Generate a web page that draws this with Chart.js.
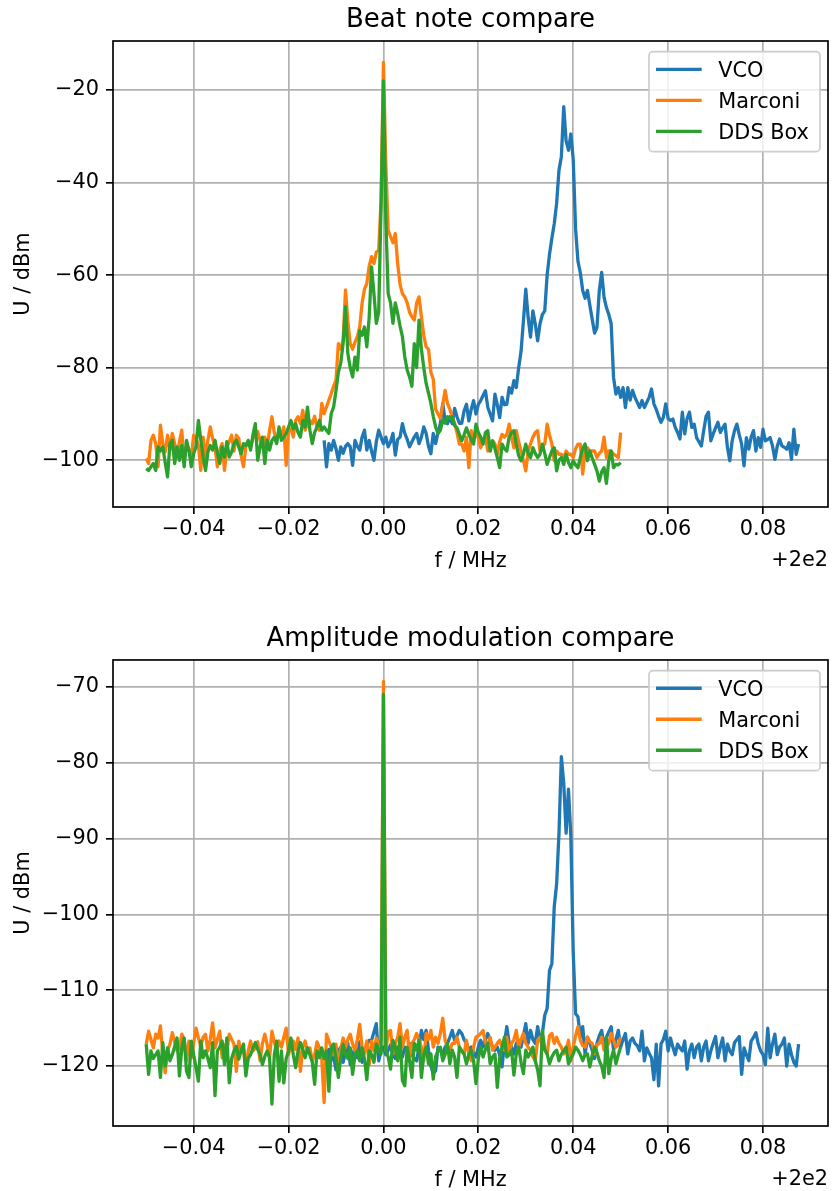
<!DOCTYPE html>
<html><head><meta charset="utf-8">
<script src="https://cdn.jsdelivr.net/npm/chart.js@4.4.1/dist/chart.umd.min.js"></script>
<style>
html,body{margin:0;padding:0;background:#fff;overflow:hidden;width:833px;height:1191px;}
canvas{position:absolute;left:0;}
#c1{top:0;} #c2{top:590px;}
</style></head><body>
<canvas id="c1" width="833" height="590"></canvas>
<canvas id="c2" width="833" height="630"></canvas>
<script>
// ---------- data (frequency offsets in MHz relative to 200 MHz; levels in dBm) ----------
const signalGenStart = -0.05;   // Marconi / DDS Box sweep start
const vcoStart = -0.0125;       // VCO sweep start
const freqStep = 0.0005;        // sweep step

const seriesNames = ['VCO', 'Marconi', 'DDS Box'];
const xTicks = [-0.04, -0.02, 0.00, 0.02, 0.04, 0.06, 0.08];
const yTicksBeat = [-100, -80, -60, -40, -20];
const yTicksAM = [-120, -110, -100, -90, -80, -70];

// Beat note compare
const beatMarconi = [
-99.6,-100.7,-95.7,-94.6,-96.4,-101.4,-92.4,-96.4,-98.2,-94.6,-97.8,-94.2,-96.4,-99.3,-96.0,-93.5,-100.0,-97.1,-97.8,-99.3,
-94.6,-95.3,-96.8,-102.2,-95.0,-99.3,-95.7,-92.8,-95.3,-97.1,-101.4,-97.8,-96.4,-102.2,-97.1,-96.0,-94.6,-98.0,
-94.6,-95.3,-99.0,-101.4,-97.1,-96.0,-97.1,-95.3,-94.2,-93.8,-95.7,-97.2,-95.0,-97.1,-93.5,-90.6,-94.0,-95.7,-93.9,-94.5,
-92.8,-101.1,-93.5,-93.2,-95.0,-91.4,-90.6,-92.1,-89.2,-93.5,-92.0,-91.4,-92.1,-90.5,-92.8,-93.5,-87.7,-89.9,-88.5,-87.0,
-85.6,-84.0,-82.7,
-74.8,-76.0,-74.0,-63.2,-70.0,-74.8,-76.0,-74.5,-73.3,-71.2,-66.0,-63.0,-61.8,-58.0,-56.0,-57.5,-55.0,-54.6,-44.0,-14.0,
-36.0,-50.3,-51.7,-53.0,-51.0,-57.5,-62.0,-64.0,-64.7,-66.0,-68.0,-69.0,-69.7,-66.0,-64.7,-69.0,-73.0,-75.5,-76.0,-81.0,
-82.5,-89.0,-90.0,-91.0,-88.0,-84.9,-87.7,-89.0,-90.6,-92.0,-94.0,
-96.5,-96.5,-98.0,-95.0,-101.6,-93.6,-95.8,-94.5,-95.0,-97.3,-96.0,-95.0,-98.0,-96.5,-95.8,-96.5,-98.7,-96.0,-94.4,-95.0,
-94.4,-92.2,-95.0,-97.3,-93.6,-96.0,-98.0,-100.1,-102.3,-98.0,-96.5,-95.0,-94.0,-93.6,-98.0,-97.0,-96.5,-92.2,-94.5,-96.5,
-100.1,-98.0,-98.7,-98.7,-99.4,-98.0,-98.7,-98.7,-99.4,-97.5,-96.5,-96.5,-103.0,-98.0,-97.3,-98.0,-98.0,-98.0,-99.4,-98.5,
-98.0,-95.0,-99.4,-98.0,-98.0,-98.7,-99.0,-99.4,-94.0
];
const beatDDS = [
-101.8,-102.2,-101.4,-100.7,-102.2,-97.1,-98.0,-97.1,-100.5,-103.6,-96.4,-95.7,-100.7,-97.1,-100.0,-96.8,-101.4,-95.7,-97.8,-101.4,
-98.6,-97.1,-91.4,-95.5,-99.3,-102.2,-98.2,-96.8,-97.8,-95.7,-98.5,-100.7,-97.1,-99.3,-96.0,-99.3,-98.2,-96.4,-95.7,-97.1,
-98.6,-96.4,-96.8,-95.7,-97.8,-94.5,-92.1,-100.0,-97.1,-95.0,-100.7,-95.7,-97.8,-95.7,-95.0,-96.4,-92.8,-95.7,-95.0,-94.2,
-92.8,-91.4,-93.2,-92.1,-94.0,-95.0,-91.4,-92.8,-88.5,-93.5,-96.4,-94.0,-92.8,-91.4,-93.5,-92.8,-93.5,-94.2,-89.9,-88.5,
-85.0,
-81.0,-79.0,-74.8,-66.8,-77.0,-80.0,-82.0,-77.7,-80.5,-72.0,-73.0,-71.2,-75.5,-69.0,-58.2,-64.0,-70.4,-68.0,-45.0,-18.0,
-48.0,-64.0,-66.0,-70.4,-66.0,-68.3,-71.0,-73.3,-77.7,-80.5,-82.0,-84.0,-74.8,-80.0,-69.7,-76.0,-80.0,-83.4,-85.5,-87.7,
-90.5,-92.8,-94.2,-93.5,-91.3,-92.0,-90.6,-91.0,-90.6,-92.5,-93.0,
-94.4,-95.8,-94.5,-93.0,-94.4,-95.5,-96.5,-92.2,-94.0,-95.0,-96.5,-94.0,-93.6,-98.0,-95.8,-97.5,-99.4,-101.6,-96.5,-97.5,
-98.0,-95.0,-94.0,-93.6,-96.5,-99.0,-100.1,-98.7,-96.5,-98.5,-99.4,-97.3,-98.5,-99.4,-98.7,-96.5,-98.5,-100.9,-99.4,-98.0,
-97.3,-102.3,-100.0,-99.4,-100.9,-98.7,-100.5,-101.6,-100.1,-101.0,-101.6,-99.4,-97.5,-96.5,-100.1,-98.0,-99.5,-100.9,-102.3,-104.5,
-102.5,-101.6,-105.0,-100.0,-98.0,-101.6,-100.9,-101.0,-100.5
];
const beatVCO = [
-95.7,-101.4,-96.4,-97.8,-95.7,-97.5,-100.0,-97.1,-98.5,-97.0,-96.4,-97.1,-101.1,-95.7,-97.0,-97.8,-95.0,-93.5,-97.8,-95.7,
-98.0,-100.0,-96.0,-93.5,-95.0,-96.4,-95.0,-97.1,-96.0,-94.2,-98.9,-95.5,-95.0,-92.1,-94.2,-95.5,-97.1,-96.0,-95.0,-94.2,
-96.4,-95.0,-92.8,-94.2,-97.0,-98.6,-94.2,-96.4,-94.0,-92.1,-87.7,-91.5,-92.1,-90.6,-92.1,-88.8,-90.6,-92.0,-92.0,
-89.3,-87.9,-91.5,-89.0,-87.1,-90.0,-87.9,-87.1,-86.0,-85.0,-88.6,-90.0,-91.5,-85.7,-88.0,-90.8,-86.4,-88.0,-87.9,-84.3,
-85.5,-82.8,-84.3,-80.0,-76.5,-70.0,-63.0,-69.1,-73.4,-67.7,-70.5,-74.2,-70.5,-68.5,-67.7,-60.0,-55.5,-52.0,-48.9,-44.5,
-37.3,-34.4,-23.6,-31.0,-33.0,-29.5,-35.0,-50.0,-57.0,-59.5,-63.3,-65.0,-63.3,-66.5,-69.5,-72.5,-71.3,-63.3,-59.4,-64.8,
-67.0,-68.5,-70.5,-82.1,-85.7,-84.3,-86.4,-84.3,-88.6,-84.3,
-87.0,-84.9,-86.4,-87.5,-88.6,-87.1,-88.6,-87.5,-86.4,-84.6,-87.8,-89.0,-90.5,-91.8,-90.7,-87.8,-91.0,-91.4,-91.1,-92.9,
-94.0,-95.4,-89.6,-94.3,-91.0,-89.6,-92.9,-92.2,-95.1,-96.0,-96.9,-93.6,-90.5,-89.6,-95.8,-94.3,-93.0,-91.8,-94.0,-93.0,
-92.2,-97.2,-100.1,-95.8,-93.6,-92.2,-94.5,-96.5,-101.2,-95.1,-97.6,-95.0,-93.6,-98.0,-95.1,-97.2,-93.3,-95.8,-95.5,-95.1,
-96.9,-99.8,-97.0,-95.4,-96.9,-97.2,-97.6,-96.2,-99.8,-93.3,-98.7,-96.5
];

// Amplitude modulation compare
const amMarconi = [
-117.1,-115.4,-116.5,-117.6,-115.8,-116.3,-114.7,-118.5,-120.9,-118.0,-117.1,-115.6,-116.8,-118.0,-117.6,-115.8,-116.5,-119.3,-116.7,-118.9,
-117.0,-115.0,-116.3,-117.4,-116.2,-115.8,-118.0,-116.5,-114.3,-117.6,-116.5,-115.4,-118.9,-117.2,-118.0,-115.8,-116.5,-117.1,-120.7,-116.7,
-118.2,-117.6,-120.7,-118.0,-116.7,-118.0,-117.6,-116.8,-119.3,-117.0,-115.8,-117.2,-118.9,-115.4,-116.8,-118.0,-116.7,-117.5,-116.2,-115.0,
-118.5,-117.2,-116.7,-117.8,-116.3,-120.7,-117.5,-116.7,-118.1,-117.6,-119.3,-118.5,-116.8,-117.6,-119.0,-124.8,-115.8,-116.7,-117.5,-118.5,
-117.1,-120.2,-117.8,-116.3,-117.6,-116.5,-115.8,-117.1,-118.0,-116.5,-114.5,-117.6,-118.2,-116.7,-119.8,-116.7,-118.0,-116.3,-117.0,
-116.5,-69.3,-117.9,-115.5,-115.3,-118.4,-117.0,-116.2,-114.4,-117.5,-116.2,-115.3,-118.8,-117.0,-116.5,-115.7,-116.6,-117.5,-119.3,-115.7,
-116.5,-115.3,-117.5,-116.2,-117.0,-115.7,-113.7,-116.6,-117.5,-117.9,-117.0,-117.0,-116.2,-117.5,-118.0,-118.4,-116.6,-118.5,-119.3,-117.5,
-116.2,-116.0,-115.7,-115.3,-117.0,-117.2,-116.2,-117.9,-117.5,-117.0,-116.6,-117.5,-117.9,-116.2,-118.4,-117.0,-116.5,-115.3,-117.5,-116.5,
-115.7,-117.0,-117.5,-117.9,-118.8,-119.3,-116.6,-116.2,-117.5,-117.9,-118.4,-116.0,-115.7,-117.0,-116.2,-117.0,-117.5,-118.4,-117.9,-116.6,
-119.3,-117.5,-116.0,-114.8,-116.6,-117.3,-117.5,-116.2,-116.8,-117.0,-118.4,-117.2,-117.0,-116.2,-117.9,-117.5,-117.0,-115.7,-116.6,-117.5,
-117.2,-116.2
];
const amDDS = [
-117.1,-121.1,-118.0,-119.0,-118.5,-118.0,-121.5,-116.9,-120.0,-117.6,-119.3,-118.5,-117.4,-116.3,-121.3,-117.6,-116.3,-120.7,-121.5,-116.7,
-118.5,-120.2,-122.0,-116.7,-118.9,-118.0,-119.0,-120.2,-116.9,-123.9,-118.0,-117.5,-116.7,-119.8,-116.3,-122.2,-119.0,-118.0,-117.4,-119.1,
-118.0,-117.1,-121.3,-119.0,-118.5,-117.6,-116.9,-117.8,-118.5,-119.8,-118.7,-118.0,-118.9,-125.0,-118.5,-116.7,-122.0,-118.0,-122.2,-119.0,
-118.0,-116.3,-118.5,-120.2,-118.0,-116.9,-117.8,-118.9,-117.6,-118.5,-119.5,-122.4,-118.0,-118.9,-117.6,-119.0,-118.0,-123.3,-117.6,-117.1,
-118.9,-121.5,-119.0,-117.1,-118.5,-119.0,-117.6,-121.1,-118.5,-118.0,-119.3,-117.6,-119.0,-121.8,-118.0,-118.5,-119.5,-117.1,-118.0,
-118.4,-71.0,-117.9,-118.8,-120.4,-116.6,-117.5,-119.3,-116.2,-121.9,-122.6,-117.5,-119.3,-121.5,-117.0,-117.9,-116.6,-121.5,-118.5,-117.5,
-119.7,-118.4,-121.7,-118.8,-118.0,-117.5,-119.3,-118.5,-117.0,-119.7,-117.9,-118.8,-121.5,-117.5,-118.0,-118.4,-119.7,-118.5,-117.9,-119.3,
-122.3,-119.0,-117.5,-118.8,-117.8,-117.0,-119.7,-118.8,-118.4,-122.8,-119.0,-117.5,-116.2,-118.8,-118.5,-117.9,-121.2,-118.4,-117.5,-119.5,
-121.0,-117.9,-118.8,-118.2,-117.5,-119.3,-120.5,-122.6,-115.3,-117.8,-118.4,-119.7,-118.8,-118.2,-117.9,-119.3,-118.4,-118.0,-117.5,-119.7,
-119.0,-118.4,-117.5,-117.9,-118.5,-119.3,-118.5,-118.4,-120.1,-118.6,-117.5,-118.2,-119.3,-120.0,-121.5,-116.2,-121.0,-119.0,-117.9,-119.7,
-118.5,-117.5
];
const amVCO = [
-118.5,-120.0,-117.8,-119.2,-118.8,-120.5,-118.0,-117.5,-119.5,-118.2,-117.0,-119.8,-118.5,-117.6,-118.9,-116.8,-119.5,-118.0,-117.2,
-116.6,-116.6,-115.5,-114.4,-119.3,-118.0,-117.5,-118.5,-117.9,-117.2,-118.5,-119.0,-117.5,-118.2,-118.8,-117.5,-118.0,-117.0,-118.5,-119.0,
-119.3,-117.5,-115.3,-116.5,-115.3,-117.9,-120.0,-121.0,-120.6,-117.5,-117.9,-118.4,-117.5,-117.0,-116.2,-115.3,-116.6,-116.0,-115.3,-115.7,
-116.5,-117.0,-117.9,-117.5,-118.2,-118.8,-117.5,-116.6,-117.5,-116.5,-115.7,-116.6,-117.5,-117.9,-117.5,-118.5,-120.1,-117.0,-114.8,-117.0,
-117.5,-118.4,-117.0,-116.6,-117.5,-116.0,-114.4,-117.0,-115.3,-116.5,-117.0,-114.8,-116.6,-115.7,-113.3,-112.4,-107.4,-106.5,-99.0,-96.0,
-89.3,-79.2,-82.7,-89.3,-83.5,-89.7,-105.0,-113.1,-113.5,-116.2,-114.8,-118.4,-116.2,-117.0,-117.9,-119.0,-117.0,-116.0,-115.3,-117.5,
-116.2,-115.5,-114.8,-117.9,-116.5,-115.3,-117.5,-116.5,-115.7,-118.4,
-116.7,-116.3,-117.0,-117.3,-118.0,-115.4,-119.3,-117.6,-118.3,-118.9,-121.8,-117.1,-122.6,-117.1,-116.5,-115.4,-118.0,-116.3,-117.5,-118.5,
-117.1,-117.6,-118.0,-116.7,-120.4,-118.0,-117.1,-118.9,-117.5,-117.1,-119.3,-117.5,-116.7,-119.3,-118.0,-117.0,-116.1,-118.9,-117.5,-116.3,
-119.3,-117.1,-118.0,-118.5,-116.9,-116.5,-116.1,-121.1,-117.6,-118.5,-119.3,-116.7,-116.2,-115.6,-117.1,-118.0,-118.5,-119.8,-115.0,-118.9,
-117.1,-115.8,-118.5,-117.5,-117.1,-116.3,-120.0,-117.1,-118.5,-119.5,-120.0,-117.1
];

// ---------- styling ----------
const FONT = '"DejaVu Sans", "Liberation Sans", sans-serif';
const FS = 20.83;
const colors = ['#1f77b4', '#ff7f0e', '#2ca02c'];
Chart.defaults.font.family = FONT;
Chart.defaults.color = '#000';

function fmt(v, d) {
  const s = Math.abs(v).toFixed(d);
  return (v < 0 && Number(s) !== 0 ? '\u2212' : '') + s;
}
function toXY(start, arr) {
  return arr.map((v, k) => ({ x: start + k * freqStep, y: v }));
}

const mplPlugin = {
  id: 'mplDecor',
  afterDatasetsDraw(chart) {
    const { ctx, chartArea: a } = chart;
    ctx.save();
    // spines
    ctx.strokeStyle = '#000';
    ctx.lineWidth = 1.67;
    ctx.strokeRect(a.left, a.top, a.right - a.left, a.bottom - a.top);
    // legend
    const bw = 171, bh = 100;
    const bx = a.right - 8 - bw, by = a.top + 10.7;
    const r = 4;
    ctx.beginPath();
    ctx.moveTo(bx + r, by);
    ctx.lineTo(bx + bw - r, by); ctx.arcTo(bx + bw, by, bx + bw, by + r, r);
    ctx.lineTo(bx + bw, by + bh - r); ctx.arcTo(bx + bw, by + bh, bx + bw - r, by + bh, r);
    ctx.lineTo(bx + r, by + bh); ctx.arcTo(bx, by + bh, bx, by + bh - r, r);
    ctx.lineTo(bx, by + r); ctx.arcTo(bx, by, bx + r, by, r);
    ctx.closePath();
    ctx.fillStyle = 'rgba(255,255,255,0.8)';
    ctx.fill();
    ctx.strokeStyle = '#cccccc';
    ctx.lineWidth = 1.67;
    ctx.stroke();
    ctx.font = FS + 'px ' + FONT;
    ctx.textAlign = 'left';
    ctx.textBaseline = 'alphabetic';
    seriesNames.forEach((name, k) => {
      const ly = by + 17.6 + k * 31;
      ctx.strokeStyle = colors[k];
      ctx.lineWidth = 3.3;
      ctx.beginPath();
      ctx.moveTo(bx + 7, ly);
      ctx.lineTo(bx + 52.7, ly);
      ctx.stroke();
      ctx.fillStyle = '#000';
      ctx.fillText(name, bx + 69.3, ly + 7.4);
    });
    // offset text
    ctx.textAlign = 'right';
    ctx.fillStyle = '#000';
    ctx.fillText('+2e2', a.right, a.bottom + 59);
    ctx.restore();
  }
};

function makeChart(id, titleText, titleSize, yMin, yMax, yTicks, titlePad, xAxisHeight, xTitlePadBottom, vco, marconi, dds) {
  const ds = (label, start, arr, k, order) => ({
    label, data: toXY(start, arr), borderColor: colors[k], borderWidth: 3.3,
    pointRadius: 0, pointHoverRadius: 0, tension: 0, fill: false, order,
    borderJoinStyle: 'round', borderCapStyle: 'butt'
  });
  const gridOpts = { color: '#b0b0b0', lineWidth: 1.67, tickColor: '#000', tickWidth: 1.67, tickLength: 7, drawTicks: true };
  return new Chart(document.getElementById(id), {
    type: 'line',
    data: {
      datasets: [
        ds(seriesNames[0], vcoStart, vco, 0, 3),
        ds(seriesNames[1], signalGenStart, marconi, 1, 2),
        ds(seriesNames[2], signalGenStart, dds, 2, 1)
      ]
    },
    options: {
      responsive: false,
      animation: false,
      devicePixelRatio: 1,
      events: [],
      layout: { padding: { left: 0, right: 5, top: 0, bottom: 0 }, autoPadding: false },
      plugins: {
        legend: { display: false },
        tooltip: { enabled: false },
        title: {
          display: true, text: titleText, color: '#000', fullSize: false,
          font: { family: FONT, size: titleSize, weight: 'normal', lineHeight: 1.2 },
          padding: titlePad
        }
      },
      scales: {
        x: {
          type: 'linear', position: 'bottom', min: -0.0570, max: 0.0937,
          afterBuildTicks: s => { s.ticks = xTicks.map(v => ({ value: v })); },
          afterFit: s => { s.height = xAxisHeight; },
          ticks: { callback: v => fmt(v, 2), font: { family: FONT, size: FS }, color: '#000', padding: 3, maxRotation: 0, autoSkip: false },
          grid: gridOpts,
          border: { display: false },
          title: { display: true, text: 'f / MHz', color: '#000', font: { family: FONT, size: FS, lineHeight: 1.2 }, padding: { top: 0, bottom: xTitlePadBottom } }
        },
        y: {
          type: 'linear', position: 'left', min: yMin, max: yMax,
          afterBuildTicks: s => { s.ticks = yTicks.map(v => ({ value: v })); },
          afterFit: s => { s.width = 113; },
          ticks: { callback: v => fmt(v, 0), font: { family: FONT, size: FS }, color: '#000', padding: 7, autoSkip: false },
          grid: gridOpts,
          border: { display: false },
          title: { display: true, text: 'U / dBm', color: '#000', font: { family: FONT, size: FS, lineHeight: 1.2 }, padding: { top: 11.5, bottom: 0 } }
        }
      }
    },
    plugins: [mplPlugin]
  });
}

makeChart('c1', 'Beat note compare', 26, -110.1, -9.4, yTicksBeat, { top: 4.5, bottom: 5.3 }, 83, 15.5, beatVCO, beatMarconi, beatDDS);
makeChart('c2', 'Amplitude modulation compare', 25.8, -127.9, -66.46, yTicksAM, { top: 33.4, bottom: 5.6 }, 94, 26.5, amVCO, amMarconi, amDDS);
</script>
</body></html>
